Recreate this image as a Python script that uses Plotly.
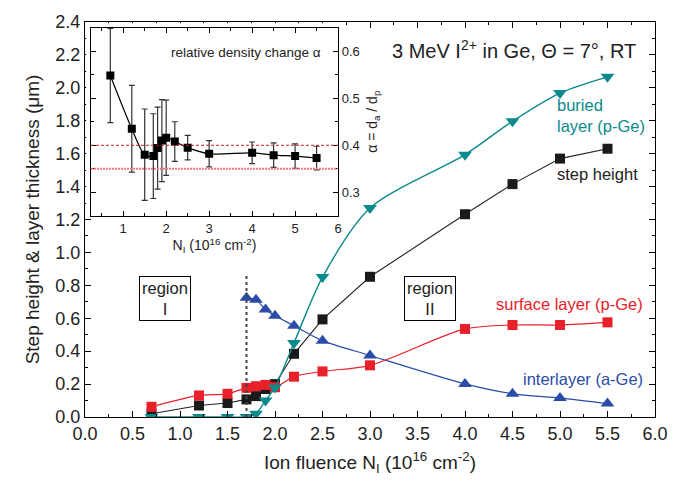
import plotly.graph_objects as go

# ---------------- data ----------------
fluence = [0.7, 1.2, 1.5, 1.7, 1.8, 1.9, 2.0, 2.2, 2.5, 3.0, 4.0, 4.5, 5.0, 5.5]
step_height = [0.02, 0.07, 0.085, 0.107, 0.127, 0.17, 0.20, 0.384, 0.593, 0.852, 1.232, 1.415, 1.57, 1.63]
buried = [0.0, 0.0, 0.0, 0.0, 0.02, 0.10, 0.18, 0.45, 0.85, 1.27, 1.594, 1.797, 1.968, 2.067]
surface = [0.062, 0.131, 0.141, 0.177, 0.187, 0.195, 0.181, 0.245, 0.277, 0.314, 0.535, 0.559, 0.559, 0.575]

fluence_inter = [1.7, 1.8, 1.9, 2.0, 2.2, 2.5, 3.0, 4.0, 4.5, 5.0, 5.5]
interlayer = [0.724, 0.712, 0.653, 0.615, 0.555, 0.464, 0.374, 0.201, 0.141, 0.115, 0.082]

alpha = [0.548, 0.435, 0.380, 0.377, 0.394, 0.410, 0.416, 0.408, 0.395, 0.382, 0.384, 0.379, 0.377, 0.373]
alpha_err = [0.10, 0.092, 0.097, 0.09, 0.087, 0.087, 0.08, 0.042, 0.026, 0.028, 0.023, 0.026, 0.026, 0.025]
alpha_ref = [0.40, 0.35]

region_boundary = 1.7
boundary_top = 0.87

TEAL = "#0A8A8A"
RED = "#E8202A"
BLUE = "#2B4BA8"
FONT = "Liberation Sans, Arial, sans-serif"

fig = go.Figure()

# main traces
fig.add_trace(go.Scatter(x=fluence, y=step_height, mode="lines+markers",
                         line=dict(color="#222222", width=1.1),
                         marker=dict(symbol="square", size=10, color="#1a1a1a"),
                         xaxis="x", yaxis="y"))
fig.add_trace(go.Scatter(x=fluence_inter, y=interlayer, mode="lines+markers",
                         line=dict(color=BLUE, width=1.2, shape="spline", smoothing=0.8),
                         marker=dict(symbol="triangle-up", size=12, color=BLUE),
                         xaxis="x", yaxis="y"))
fig.add_trace(go.Scatter(x=fluence, y=surface, mode="lines+markers",
                         line=dict(color=RED, width=1.2, shape="spline", smoothing=0.8),
                         marker=dict(symbol="square", size=10, color=RED),
                         xaxis="x", yaxis="y"))
fig.add_trace(go.Scatter(x=fluence, y=buried, mode="lines+markers",
                         line=dict(color=TEAL, width=1.4, shape="spline", smoothing=0.8),
                         marker=dict(symbol="triangle-down", size=12, color=TEAL),
                         xaxis="x", yaxis="y"))

# dummy subplot (white background behind inset)
fig.add_trace(go.Scatter(x=[None], y=[None], xaxis="x2", yaxis="y2", showlegend=False))

# inset
fig.add_trace(go.Scatter(x=fluence, y=alpha, mode="lines+markers",
                         line=dict(color="black", width=1.2, shape="spline", smoothing=0.8),
                         marker=dict(symbol="square", size=8, color="black"),
                         error_y=dict(type="data", array=alpha_err, color="#333333",
                                      thickness=1.2, width=3),
                         xaxis="x3", yaxis="y3"))

ax_common = dict(showline=True, linecolor="black", linewidth=1, mirror="allticks",
                 ticks="inside", tickcolor="black", showgrid=False, zeroline=False)

fig.update_layout(
    width=685, height=483,
    margin=dict(l=85, r=30, t=15, b=66),
    paper_bgcolor="white", plot_bgcolor="white",
    showlegend=False,
    font=dict(family=FONT, color="#222222"),
    xaxis=dict(domain=[0, 1], range=[0, 6], dtick=0.5, tick0=0, tickformat=".1f",
               ticklen=6, tickfont=dict(size=18),
               minor=dict(dtick=0.25, ticks="inside", ticklen=3, tickcolor="black"),
               title=dict(text="Ion fluence N<sub>I</sub> (10<sup>16</sup> cm<sup>-2</sup>)",
                          font=dict(size=19), standoff=13),
               anchor="y", **ax_common),
    yaxis=dict(domain=[0, 1], range=[0, 2.4], dtick=0.2, tick0=0, tickformat=".1f",
               ticklen=6, tickfont=dict(size=18),
               minor=dict(dtick=0.1, ticks="inside", ticklen=3, tickcolor="black"),
               title=dict(text="Step height & layer thickness (\u03bcm)",
                          font=dict(size=19), standoff=10),
               anchor="x", **ax_common),
    xaxis2=dict(domain=[0.002, 0.445], range=[0, 1], visible=False, anchor="y2"),
    yaxis2=dict(domain=[0.52, 0.997], range=[0, 1], visible=False, anchor="x2"),
    xaxis3=dict(domain=[0.0105, 0.444], range=[0.25, 6], dtick=1, tick0=0,
                ticklen=5, tickfont=dict(size=13),
                minor=dict(dtick=0.5, ticks="inside", ticklen=3, tickcolor="black"),
                title=dict(text="N<sub>I</sub> (10<sup>16</sup> cm<sup>-2</sup>)",
                           font=dict(size=14), standoff=2),
                anchor="y3", **ax_common),
    yaxis3=dict(domain=[0.509, 0.986], range=[0.25, 0.65], dtick=0.1, tick0=0,
                tickformat=".1f", side="right",
                ticklen=5, tickfont=dict(size=13),
                minor=dict(dtick=0.05, ticks="inside", ticklen=3, tickcolor="black"),
                title=dict(text="\u03b1 = d<sub>a</sub> / d<sub>p</sub>",
                           font=dict(size=14), standoff=8),
                anchor="x3", **ax_common),
)

shapes = [
    dict(type="line", xref="x", yref="y", x0=region_boundary, x1=region_boundary,
         y0=0, y1=boundary_top, line=dict(color="#444444", width=2, dash="dot")),
    dict(type="line", xref="x3 domain", yref="y3", x0=0, x1=1, y0=alpha_ref[0], y1=alpha_ref[0],
         line=dict(color="#C82020", width=1, dash="3px,2px")),
    dict(type="line", xref="x3 domain", yref="y3", x0=0, x1=1, y0=alpha_ref[1], y1=alpha_ref[1],
         line=dict(color="#F07878", width=2, dash="2px,1px")),
]
fig.update_layout(shapes=shapes)

ann = [
    dict(x=5.82, y=2.23, xref="x", yref="y", xanchor="right", yanchor="middle",
         text="3 MeV I<sup>2+</sup> in Ge, \u0398 = 7\u00b0, RT", font=dict(size=20, color="#222222")),
    dict(x=4.95, y=1.96, xref="x", yref="y", xanchor="left", yanchor="top", align="left",
         text="buried<br>layer (p-Ge)", font=dict(size=16.5, color=TEAL)),
    dict(x=4.95, y=1.475, xref="x", yref="y", xanchor="left", yanchor="middle",
         text="step height", font=dict(size=16.5, color="#222222")),
    dict(x=5.89, y=0.687, xref="x", yref="y", xanchor="right", yanchor="middle",
         text="surface layer (p-Ge)", font=dict(size=16.5, color=RED)),
    dict(x=5.89, y=0.233, xref="x", yref="y", xanchor="right", yanchor="middle",
         text="interlayer (a-Ge)", font=dict(size=16.5, color=BLUE)),
    dict(x=0.84, y=0.72, xref="x", yref="y", xanchor="center", yanchor="middle",
         text="region<br>I", font=dict(size=16.5, color="#222222"),
         bordercolor="black", borderwidth=1, borderpad=2, bgcolor="white"),
    dict(x=3.635, y=0.72, xref="x", yref="y", xanchor="center", yanchor="middle",
         text="region<br>II", font=dict(size=16.5, color="#222222"),
         bordercolor="black", borderwidth=1, borderpad=2, bgcolor="white"),
    dict(x=5.64, y=0.598, xref="x3", yref="y3", xanchor="right", yanchor="middle",
         text="relative density change \u03b1", font=dict(size=13.5, color="#222222")),
]
for a in ann:
    a["showarrow"] = False
fig.update_layout(annotations=ann)

fig.write_html("out.html")
